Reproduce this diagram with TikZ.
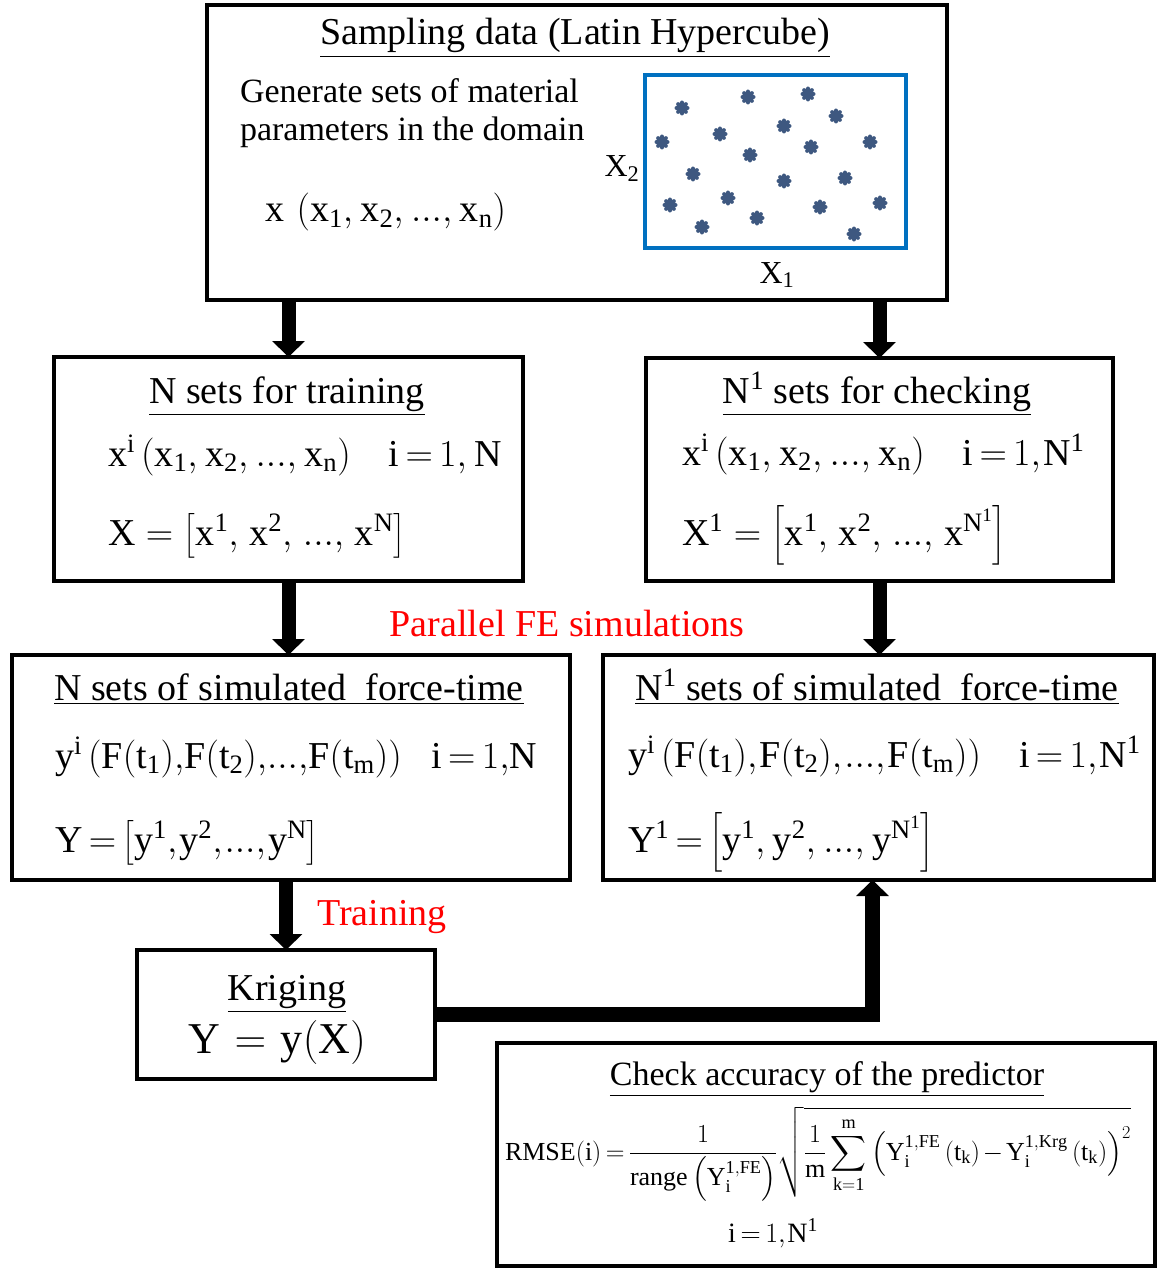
\RequirePackage{fix-cm}
\documentclass[tikz,border=0pt]{standalone}
\usepackage{amsmath}
\usepackage{fontspec}
\setmainfont{Liberation Serif}
\setmathrm{Liberation Serif}
\usetikzlibrary{arrows.meta}
\definecolor{boxblue}{RGB}{0,112,192}
\definecolor{dotblue}{RGB}{62,88,128}
\definecolor{redtxt}{RGB}{255,0,0}
\newcommand{\fsz}[1]{\fontsize{#1}{#1}\selectfont\thickmuskip=3mu plus 1mu\medmuskip=2mu\relax}
\newcommand{\cma}{{,}\mkern1mu}
\newcommand{\cmb}{{,}\mkern3.5mu}
\newcommand{\cmc}{{,}\mkern5mu}
\newcommand{\cmz}{{,}}
\begin{document}
\begin{tikzpicture}[x=1pt,y=-1pt,
  box/.style={draw=black,line width=4pt,inner sep=0pt,outer sep=0pt},
  txt/.style={inner sep=0pt,outer sep=0pt,text=black},
  redlbl/.style={inner sep=0pt,outer sep=0pt,text=redtxt},
  arr/.style={draw=black,line width=14pt,-{Triangle[width=32pt,length=16pt]}},
  starline/.style={draw=dotblue,line width=4pt,line cap=round}]
\useasboundingbox (0,0) rectangle (1158,1268);

% boxes
\node[box,minimum width=740pt,minimum height=295pt] (top) at (577,152.5) {};
\node[box,minimum width=469pt,minimum height=224pt] (train) at (288.5,469) {};
\node[box,minimum width=467pt,minimum height=223pt] (check) at (879.5,469.5) {};
\node[box,minimum width=558pt,minimum height=225pt] (simL) at (291,767.5) {};
\node[box,minimum width=551pt,minimum height=225pt] (simR) at (878.5,767.5) {};
\node[box,minimum width=298pt,minimum height=129pt] (krig) at (286,1014.5) {};
\node[box,line width=3.5pt,minimum width=658pt,minimum height=223pt] (acc) at (826,1154.5) {};

% top box content
\node[txt,anchor=base] (ttl1) at (575,45) {\fsz{38}\underline{Sampling data (Latin Hypercube)}};
\node[txt,anchor=base west] (gen1) at (240,103) {\fsz{34}Generate sets of material};
\node[txt,anchor=base west] (gen2) at (240,141) {\fsz{34}parameters in the domain};
\node[txt,anchor=base west] (xdom) at (265,222) {\fsz{38}$\mathrm{x\,\left(x_1\cmb x_2\cmb ...\cmb x_n\right)}$};
\node[draw=boxblue,line width=4pt,inner sep=0pt,minimum width=261pt,minimum height=173pt] (dom) at (775.5,161.5) {};
\node[txt,anchor=base] (lx2) at (622,177) {\fsz{32}$\mathrm{X_2}$};
\node[txt,anchor=base] (lx1) at (777,283) {\fsz{32}$\mathrm{X_1}$};
\foreach \px/\py in {682/108,748/97,808/94,836/116,784/126,720/134,662/142,750/155,811/147,870/142,693/174,784/181,845/178,670/205,728/198,820/207,880/203,702/227,757/218,854/234}{
  \foreach \a in {0,45,90,135}{
    \draw[starline] (\px,\py) ++(\a:5.5) -- ++(\a+180:11);
  }
}

% training box
\node[txt,anchor=base] (ttl2) at (287,403) {\fsz{38}\underline{N sets for training}};
\node[txt,anchor=base west] (tr1) at (108,466) {\fsz{38}$\mathrm{x^i\left(x_1\cmb x_2\cmb ...\cmb x_n\right)}\quad\mathrm{i}=1\cmb\mathrm{N}$};
\node[txt,anchor=base west] (tr2) at (108,545) {\fsz{38}\thickmuskip=5mu$\mathrm{X}=\left[\mathrm{x^1\cmc x^2\cmc ...\cmc x^N}\right]$};

% checking box
\node[txt,anchor=base] (ttl3) at (877,403) {\fsz{38}\underline{N\textsuperscript{1} sets for checking}};
\node[txt,anchor=base west] (ch1) at (682,465) {\fsz{38}$\mathrm{x^i\left(x_1\cmb x_2\cmb ...\cmb x_n\right)}\quad\mathrm{i}=1\cma\mathrm{N^1}$};
\node[txt,anchor=base west] (ch2) at (682,545) {\fsz{38}\thickmuskip=5mu$\mathrm{X^1}=\left[\mathrm{x^1\cmc x^2\cmc ...\cmc x^{N^1}}\right]$};

% simulated left
\node[txt,anchor=base] (ttl4) at (289,700) {\fsz{38}\underline{N sets of simulated\hspace{0.5em}force-time}};
\node[txt,anchor=base west] (sl1) at (55,768) {\fsz{38}$\mathrm{y^i\left(F(t_1)\cmz F(t_2)\cmz ...\cmz F(t_m)\right)}\mkern14mu\mathrm{i}=1\cmz\mathrm{N}$};
\node[txt,anchor=base west] (sl2) at (55,852) {\fsz{38}$\mathrm{Y}=\left[\mathrm{y^1\cma y^2\cma ...\cma y^N}\right]$};

% simulated right
\node[txt,anchor=base] (ttl5) at (877,700) {\fsz{38}\underline{N\textsuperscript{1} sets of simulated\hspace{0.5em}force-time}};
\node[txt,anchor=base west] (sr1) at (628,767) {\fsz{38}$\mathrm{y^i\left(F(t_1)\cma F(t_2)\cma ...\cma F(t_m)\right)}\quad\mathrm{i}=1\cma\mathrm{N^1}$};
\node[txt,anchor=base west] (sr2) at (628,852) {\fsz{38}$\mathrm{Y^1}=\left[\mathrm{y^1\cmb y^2\cmb ...\cmb y^{N^1}}\right]$};

% kriging
\node[txt,anchor=base] (ttl6) at (287,1000) {\fsz{38}\underline{Kriging}};
\node[txt,anchor=base] (kr1) at (277,1053) {\fsz{44}\thickmuskip=6mu$\mathrm{Y}=\mathrm{y(X)}$};

% accuracy
\node[txt,anchor=base] (ttl7) at (827,1085) {\fsz{34}\underline{Check accuracy of the predictor}};
\node[txt,anchor=base west] (rm) at (505,1160) {\fsz{26}$\displaystyle\mathrm{RMSE(i)}=\frac{1}{\mathrm{range}\left(\mathrm{Y_i^{1,FE}}\right)}\sqrt{\frac{1}{\mathrm{m}}\sum_{\mathrm{k=1}}^{\mathrm{m}}\left(\mathrm{Y_i^{1,FE}\left(t_k\right)-Y_i^{1,Krg}\left(t_k\right)}\right)^2}$};
\node[txt,anchor=base] (rmi) at (773,1242) {\fsz{28}$\mathrm{i}=1\cma\mathrm{N^1}$};

% red labels
\node[redlbl,anchor=base] (par) at (567,636) {\fsz{38}Parallel FE simulations};
\node[redlbl,anchor=base] (trn) at (382,925) {\fsz{38}Training};

% connectors
\draw[arr] (top.south -| train.north) -- (train.north);
\draw[arr] (top.south -| check.north) -- (check.north);
\draw[arr] (train.south) -- (train.south |- simL.north);
\draw[arr] (check.south) -- (check.south |- simR.north);
\draw[arr] (krig.north |- simL.south) -- (krig.north);
\coordinate (kr) at ([xshift=-6pt]simR.south);
\draw[arr,line width=15pt] (krig.east) -| (kr);
\end{tikzpicture}
\end{document}
